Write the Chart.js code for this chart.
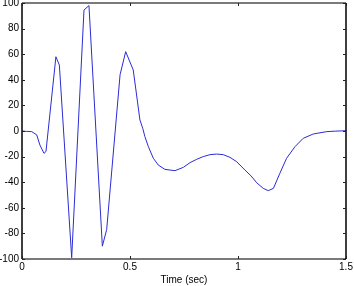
<!DOCTYPE html>
<html>
<head>
<meta charset="utf-8">
<script src="https://cdn.jsdelivr.net/npm/chart.js@4/dist/chart.umd.min.js"></script>
<style>
html,body{margin:0;padding:0;background:#fff;}
#wrap{width:354px;height:286px;}
</style>
</head>
<body>
<div id="wrap"><canvas id="c" width="354" height="286"></canvas></div>
<script>
// Data
const timeSec = [0, 0.02, 0.045, 0.068, 0.083, 0.102, 0.111, 0.157, 0.173, 0.23, 0.287, 0.31, 0.372, 0.392, 0.454, 0.48, 0.515, 0.546, 0.559, 0.569, 0.585, 0.608, 0.631, 0.662, 0.708, 0.747, 0.778, 0.809, 0.839, 0.870, 0.901, 0.932, 0.963, 0.994, 1.032, 1.06, 1.087, 1.117, 1.14, 1.164, 1.194, 1.225, 1.264, 1.302, 1.349, 1.411, 1.45, 1.5];
const amplitude = [0, -0.3, -0.5, -3, -11, -17.5, -16, 58, 51.5, -99, 94.5, 98, -90, -77, 44, 62, 47.7, 8.6, 2.1, -4.4, -12.2, -21.3, -26.6, -30, -31, -28.4, -24.7, -22.1, -20, -18.5, -18, -18.5, -20.6, -24, -30.5, -35, -40.5, -44.8, -46.6, -44.8, -33, -21.3, -12.2, -5.7, -2.3, -0.5, -0.1, 0.2];
const xTicks = [0, 0.5, 1, 1.5];
const yTicks = [-100, -80, -60, -40, -20, 0, 20, 40, 60, 80, 100];
const xTitle = 'Time (sec)';

const pts = timeSec.map((t, i) => ({x: t, y: amplitude[i]}));

const boxPlugin = {
  id: 'matlabBox',
  afterDatasetsDraw(chart) {
    const {ctx, chartArea: a, scales} = chart;
    const xs = scales.x, ys = scales.y;
    ctx.save();
    ctx.strokeStyle = '#7a7a7a';
    ctx.lineWidth = 2;
    ctx.beginPath();
    ctx.moveTo(a.left, a.top); ctx.lineTo(a.right, a.top);
    ctx.moveTo(a.left, a.bottom); ctx.lineTo(a.right, a.bottom);
    ctx.stroke();
    ctx.strokeStyle = '#000';
    ctx.lineWidth = 1.5;
    ctx.beginPath();
    ctx.moveTo(a.left, a.top); ctx.lineTo(a.left, a.bottom);
    ctx.moveTo(a.right, a.top); ctx.lineTo(a.right, a.bottom);
    ctx.stroke();
    ctx.strokeStyle = '#222';
    ctx.lineWidth = 1;
    ctx.beginPath();
    const L = 3;
    xTicks.forEach(v => {
      const px = Math.round(xs.getPixelForValue(v)) + 0.5;
      ctx.moveTo(px, a.bottom); ctx.lineTo(px, a.bottom - L);
      ctx.moveTo(px, a.top); ctx.lineTo(px, a.top + L);
    });
    yTicks.forEach(v => {
      const py = Math.round(ys.getPixelForValue(v)) + 0.5;
      ctx.moveTo(a.left, py); ctx.lineTo(a.left + L, py);
      ctx.moveTo(a.right, py); ctx.lineTo(a.right - L, py);
    });
    ctx.stroke();
    ctx.restore();
  }
};

const font = {family: '"Liberation Sans", Arial, sans-serif', size: 10};

new Chart(document.getElementById('c'), {
  type: 'scatter',
  data: {
    datasets: [{
      data: pts,
      showLine: true,
      borderColor: '#2b2bd6',
      borderWidth: 1,
      pointRadius: 0,
      tension: 0,
      fill: false
    }]
  },
  options: {
    responsive: false,
    animation: false,
    devicePixelRatio: 1,
    layout: {padding: {left: 0, right: 8, top: 3, bottom: 0}},
    plugins: {legend: {display: false}, tooltip: {enabled: false}},
    scales: {
      x: {
        type: 'linear', min: 0, max: 1.5,
        afterBuildTicks(s) { s.ticks = xTicks.map(v => ({value: v})); },
        afterFit(s) { s.height = 27; s.paddingLeft = 0; s.paddingRight = 0; },
        grid: {display: false, drawTicks: false},
        border: {display: false},
        ticks: {color: '#000', font, padding: 2, maxRotation: 0, autoSkip: false,
                callback: v => String(v)},
        title: {display: true, text: xTitle, color: '#000', font, padding: {top: 1, bottom: 0}}
      },
      y: {
        type: 'linear', min: -100, max: 100,
        afterBuildTicks(s) { s.ticks = yTicks.map(v => ({value: v})); },
        afterFit(s) { s.width = 22; s.paddingTop = 0; s.paddingBottom = 0; },
        grid: {display: false, drawTicks: false},
        border: {display: false},
        ticks: {color: '#000', font, padding: 3, autoSkip: false, callback: v => String(v)}
      }
    }
  },
  plugins: [boxPlugin]
});
</script>
</body>
</html>
